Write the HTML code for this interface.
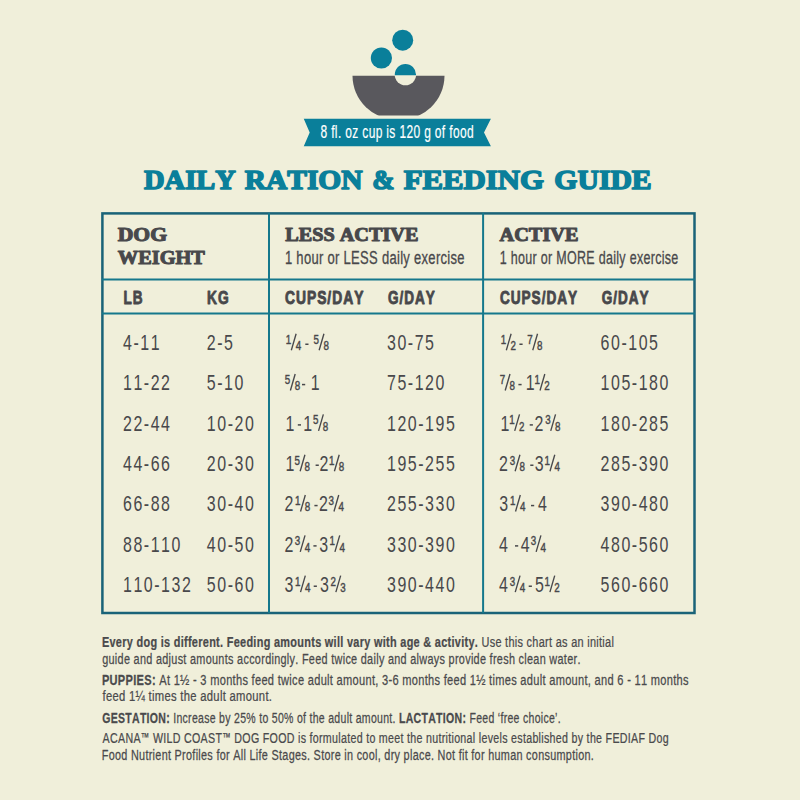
<!DOCTYPE html>
<html><head><meta charset="utf-8"><title>Daily Ration &amp; Feeding Guide</title>
<style>html,body{margin:0;padding:0;background:#f0efda;width:800px;height:800px;overflow:hidden}
text{font-kerning:none;font-family:"Liberation Sans",sans-serif}</style></head>
<body>
<svg width="800" height="800" viewBox="0 0 800 800" style="display:block;font-kerning:none"><rect x="0" y="0" width="800" height="800" fill="#f0efda"/>
<circle cx="402.7" cy="40.2" r="10.5" fill="#0a7f9a"/>
<circle cx="381.4" cy="58.0" r="10.6" fill="#0a7f9a"/>
<defs><clipPath id="bc"><rect x="340" y="75.7" width="120" height="39.9"/></clipPath><clipPath id="tc"><rect x="380" y="50" width="50" height="25.3"/></clipPath><mask id="bm"><rect x="300" y="60" width="200" height="70" fill="#fff"/><circle cx="405.4" cy="74.6" r="10.7" fill="#000"/></mask></defs>
<g mask="url(#bm)"><ellipse cx="398.5" cy="75.7" rx="46" ry="44.5" fill="#59585d" clip-path="url(#bc)"/></g>
<circle cx="405.4" cy="74.6" r="10.6" fill="#0a7f9a" clip-path="url(#tc)"/>
<polygon points="303.75,118.75 490.9,118.75 484,132.5 490.9,146.25 303.75,146.25 309.7,132.5" fill="#0a7f9a"/>
<text transform="translate(320.478 138.300) scale(0.6555 1)" fill="#ffffff" stroke="#ffffff" stroke-width="0.20" stroke-linejoin="round" letter-spacing="0.534"><tspan style="font-family:'Liberation Sans';font-weight:normal;font-size:18.314px">8 fl. oz cup is 120 g of food</tspan></text>
<text transform="translate(144.100 189.200) scale(1.0065 1)" fill="#0a7f9a" stroke="#0a7f9a" stroke-width="1.60" stroke-linejoin="round"><tspan style="font-family:'Liberation Serif';font-weight:bold;font-size:28.254px">DAILY</tspan></text>
<text transform="translate(244.696 189.200) scale(1.0430 1)" fill="#0a7f9a" stroke="#0a7f9a" stroke-width="1.60" stroke-linejoin="round"><tspan style="font-family:'Liberation Serif';font-weight:bold;font-size:28.254px">RATION</tspan></text>
<text transform="translate(372.262 189.200) scale(0.9451 1)" fill="#0a7f9a" stroke="#0a7f9a" stroke-width="1.60" stroke-linejoin="round"><tspan style="font-family:'Liberation Serif';font-weight:bold;font-size:28.254px">&amp;</tspan></text>
<text transform="translate(403.673 189.200) scale(1.0904 1)" fill="#0a7f9a" stroke="#0a7f9a" stroke-width="1.60" stroke-linejoin="round"><tspan style="font-family:'Liberation Serif';font-weight:bold;font-size:28.254px">FEEDING</tspan></text>
<text transform="translate(554.350 189.200) scale(1.0513 1)" fill="#0a7f9a" stroke="#0a7f9a" stroke-width="1.60" stroke-linejoin="round"><tspan style="font-family:'Liberation Serif';font-weight:bold;font-size:28.254px">GUIDE</tspan></text>
<rect x="102.4" y="213.4" width="592.1" height="399.6" fill="none" stroke="#1a6378" stroke-width="2.5"/>
<line x1="269.0" y1="213" x2="269.0" y2="613" stroke="#15788c" stroke-width="2"/>
<line x1="483.1" y1="213" x2="483.1" y2="613" stroke="#15788c" stroke-width="2"/>
<line x1="102" y1="279.5" x2="695" y2="279.5" stroke="#15788c" stroke-width="2"/>
<line x1="102" y1="313.5" x2="695" y2="313.5" stroke="#15788c" stroke-width="2"/>
<text transform="translate(117.719 241.100) scale(1.1730 1)" fill="#48484b" stroke="#48484b" stroke-width="1.00" stroke-linejoin="round"><tspan style="font-family:'Liberation Serif';font-weight:bold;font-size:18.479px">DOG</tspan></text>
<text transform="translate(117.812 263.800) scale(1.0495 1)" fill="#48484b" stroke="#48484b" stroke-width="1.00" stroke-linejoin="round"><tspan style="font-family:'Liberation Serif';font-weight:bold;font-size:19.396px">WEIGHT</tspan></text>
<text transform="translate(285.154 241.100) scale(1.0960 1)" fill="#48484b" stroke="#48484b" stroke-width="1.00" stroke-linejoin="round"><tspan style="font-family:'Liberation Serif';font-weight:bold;font-size:18.479px">LESS ACTIVE</tspan></text>
<text transform="translate(499.552 241.100) scale(1.0989 1)" fill="#48484b" stroke="#48484b" stroke-width="1.00" stroke-linejoin="round"><tspan style="font-family:'Liberation Serif';font-weight:bold;font-size:18.479px">ACTIVE</tspan></text>
<text transform="translate(284.909 264.150) scale(0.7397 1)" fill="#48484b" stroke="#48484b" stroke-width="0.30" stroke-linejoin="round" letter-spacing="0.406"><tspan style="font-family:'Liberation Sans';font-weight:normal;font-size:17.588px">1 hour or LESS daily exercise</tspan></text>
<text transform="translate(499.697 264.150) scale(0.7112 1)" fill="#48484b" stroke="#48484b" stroke-width="0.30" stroke-linejoin="round" letter-spacing="0.422"><tspan style="font-family:'Liberation Sans';font-weight:normal;font-size:17.588px">1 hour or MORE daily exercise</tspan></text>
<text transform="translate(123.540 303.550) scale(0.7142 1)" fill="#48484b" stroke="#48484b" stroke-width="0.90" stroke-linejoin="round" letter-spacing="1.400"><tspan style="font-family:'Liberation Sans';font-weight:bold;font-size:19.041px">LB</tspan></text>
<text transform="translate(207.028 303.550) scale(0.7239 1)" fill="#48484b" stroke="#48484b" stroke-width="0.90" stroke-linejoin="round" letter-spacing="1.381"><tspan style="font-family:'Liberation Sans';font-weight:bold;font-size:19.041px">KG</tspan></text>
<text transform="translate(284.881 303.550) scale(0.7281 1)" fill="#48484b" stroke="#48484b" stroke-width="0.90" stroke-linejoin="round" letter-spacing="1.373"><tspan style="font-family:'Liberation Sans';font-weight:bold;font-size:19.041px">CUPS/DAY</tspan></text>
<text transform="translate(387.895 303.550) scale(0.7110 1)" fill="#48484b" stroke="#48484b" stroke-width="0.90" stroke-linejoin="round" letter-spacing="1.407"><tspan style="font-family:'Liberation Sans';font-weight:bold;font-size:19.041px">G/DAY</tspan></text>
<text transform="translate(499.891 303.550) scale(0.7153 1)" fill="#48484b" stroke="#48484b" stroke-width="0.90" stroke-linejoin="round" letter-spacing="1.398"><tspan style="font-family:'Liberation Sans';font-weight:bold;font-size:19.041px">CUPS/DAY</tspan></text>
<text transform="translate(601.645 303.550) scale(0.7110 1)" fill="#48484b" stroke="#48484b" stroke-width="0.90" stroke-linejoin="round" letter-spacing="1.407"><tspan style="font-family:'Liberation Sans';font-weight:bold;font-size:19.041px">G/DAY</tspan></text>
<text transform="translate(123.000 350.000) scale(0.7000 1)" fill="#48484b" letter-spacing="2.214" style="font-family:'Liberation Sans';font-size:22.800px">4-11</text>
<text transform="translate(123.000 390.330) scale(0.7000 1)" fill="#48484b" letter-spacing="2.214" style="font-family:'Liberation Sans';font-size:22.800px">11-22</text>
<text transform="translate(123.000 430.660) scale(0.7000 1)" fill="#48484b" letter-spacing="2.214" style="font-family:'Liberation Sans';font-size:22.800px">22-44</text>
<text transform="translate(123.000 470.990) scale(0.7000 1)" fill="#48484b" letter-spacing="2.214" style="font-family:'Liberation Sans';font-size:22.800px">44-66</text>
<text transform="translate(123.000 511.320) scale(0.7000 1)" fill="#48484b" letter-spacing="2.214" style="font-family:'Liberation Sans';font-size:22.800px">66-88</text>
<text transform="translate(123.000 551.650) scale(0.7000 1)" fill="#48484b" letter-spacing="2.214" style="font-family:'Liberation Sans';font-size:22.800px">88-110</text>
<text transform="translate(123.000 591.980) scale(0.7000 1)" fill="#48484b" letter-spacing="2.214" style="font-family:'Liberation Sans';font-size:22.800px">110-132</text>
<text transform="translate(206.800 350.000) scale(0.7000 1)" fill="#48484b" letter-spacing="2.214" style="font-family:'Liberation Sans';font-size:22.800px">2-5</text>
<text transform="translate(206.800 390.330) scale(0.7000 1)" fill="#48484b" letter-spacing="2.214" style="font-family:'Liberation Sans';font-size:22.800px">5-10</text>
<text transform="translate(206.800 430.660) scale(0.7000 1)" fill="#48484b" letter-spacing="2.214" style="font-family:'Liberation Sans';font-size:22.800px">10-20</text>
<text transform="translate(206.800 470.990) scale(0.7000 1)" fill="#48484b" letter-spacing="2.214" style="font-family:'Liberation Sans';font-size:22.800px">20-30</text>
<text transform="translate(206.800 511.320) scale(0.7000 1)" fill="#48484b" letter-spacing="2.214" style="font-family:'Liberation Sans';font-size:22.800px">30-40</text>
<text transform="translate(206.800 551.650) scale(0.7000 1)" fill="#48484b" letter-spacing="2.214" style="font-family:'Liberation Sans';font-size:22.800px">40-50</text>
<text transform="translate(206.800 591.980) scale(0.7000 1)" fill="#48484b" letter-spacing="2.214" style="font-family:'Liberation Sans';font-size:22.800px">50-60</text>
<text transform="translate(387.000 350.000) scale(0.7000 1)" fill="#48484b" letter-spacing="2.214" style="font-family:'Liberation Sans';font-size:22.800px">30-75</text>
<text transform="translate(387.000 390.330) scale(0.7000 1)" fill="#48484b" letter-spacing="2.214" style="font-family:'Liberation Sans';font-size:22.800px">75-120</text>
<text transform="translate(387.000 430.660) scale(0.7000 1)" fill="#48484b" letter-spacing="2.214" style="font-family:'Liberation Sans';font-size:22.800px">120-195</text>
<text transform="translate(387.000 470.990) scale(0.7000 1)" fill="#48484b" letter-spacing="2.214" style="font-family:'Liberation Sans';font-size:22.800px">195-255</text>
<text transform="translate(387.000 511.320) scale(0.7000 1)" fill="#48484b" letter-spacing="2.214" style="font-family:'Liberation Sans';font-size:22.800px">255-330</text>
<text transform="translate(387.000 551.650) scale(0.7000 1)" fill="#48484b" letter-spacing="2.214" style="font-family:'Liberation Sans';font-size:22.800px">330-390</text>
<text transform="translate(387.000 591.980) scale(0.7000 1)" fill="#48484b" letter-spacing="2.214" style="font-family:'Liberation Sans';font-size:22.800px">390-440</text>
<text transform="translate(600.600 350.000) scale(0.7000 1)" fill="#48484b" letter-spacing="2.214" style="font-family:'Liberation Sans';font-size:22.800px">60-105</text>
<text transform="translate(600.600 390.330) scale(0.7000 1)" fill="#48484b" letter-spacing="2.214" style="font-family:'Liberation Sans';font-size:22.800px">105-180</text>
<text transform="translate(600.600 430.660) scale(0.7000 1)" fill="#48484b" letter-spacing="2.214" style="font-family:'Liberation Sans';font-size:22.800px">180-285</text>
<text transform="translate(600.600 470.990) scale(0.7000 1)" fill="#48484b" letter-spacing="2.214" style="font-family:'Liberation Sans';font-size:22.800px">285-390</text>
<text transform="translate(600.600 511.320) scale(0.7000 1)" fill="#48484b" letter-spacing="2.214" style="font-family:'Liberation Sans';font-size:22.800px">390-480</text>
<text transform="translate(600.600 551.650) scale(0.7000 1)" fill="#48484b" letter-spacing="2.214" style="font-family:'Liberation Sans';font-size:22.800px">480-560</text>
<text transform="translate(600.600 591.980) scale(0.7000 1)" fill="#48484b" letter-spacing="2.214" style="font-family:'Liberation Sans';font-size:22.800px">560-660</text>
<text transform="translate(285.854 343.700) scale(0.7200 1)" fill="#48484b" stroke="#48484b" stroke-width="0.45" style="font-family:'Liberation Sans';font-weight:normal;font-size:13.600px">1</text>
<line x1="291.32" y1="350.20" x2="296.12" y2="333.70" stroke="#48484b" stroke-width="1.35"/>
<text transform="translate(295.797 350.000) scale(0.7200 1)" fill="#48484b" stroke="#48484b" stroke-width="0.45" style="font-family:'Liberation Sans';font-weight:normal;font-size:13.600px">4</text>
<rect x="305.30" y="343.50" width="3.2" height="1.5" fill="#48484b"/>
<text transform="translate(313.608 343.700) scale(0.7200 1)" fill="#48484b" stroke="#48484b" stroke-width="0.45" style="font-family:'Liberation Sans';font-weight:normal;font-size:13.600px">5</text>
<line x1="319.14" y1="350.20" x2="323.94" y2="333.70" stroke="#48484b" stroke-width="1.35"/>
<text transform="translate(323.417 350.000) scale(0.7200 1)" fill="#48484b" stroke="#48484b" stroke-width="0.45" style="font-family:'Liberation Sans';font-weight:normal;font-size:13.600px">8</text>
<text transform="translate(284.858 384.030) scale(0.7200 1)" fill="#48484b" stroke="#48484b" stroke-width="0.45" style="font-family:'Liberation Sans';font-weight:normal;font-size:13.600px">5</text>
<line x1="290.39" y1="390.53" x2="295.19" y2="374.03" stroke="#48484b" stroke-width="1.35"/>
<text transform="translate(294.667 390.330) scale(0.7200 1)" fill="#48484b" stroke="#48484b" stroke-width="0.45" style="font-family:'Liberation Sans';font-weight:normal;font-size:13.600px">8</text>
<rect x="302.00" y="383.83" width="3.2" height="1.5" fill="#48484b"/>
<text transform="translate(310.784 390.330) scale(0.7000 1)" fill="#48484b" style="font-family:'Liberation Sans';font-weight:normal;font-size:22.800px">1</text>
<text transform="translate(285.384 430.660) scale(0.7000 1)" fill="#48484b" style="font-family:'Liberation Sans';font-weight:normal;font-size:22.800px">1</text>
<rect x="297.80" y="424.16" width="3.2" height="1.5" fill="#48484b"/>
<text transform="translate(303.184 430.660) scale(0.7000 1)" fill="#48484b" style="font-family:'Liberation Sans';font-weight:normal;font-size:22.800px">1</text>
<text transform="translate(313.008 424.360) scale(0.7200 1)" fill="#48484b" stroke="#48484b" stroke-width="0.45" style="font-family:'Liberation Sans';font-weight:normal;font-size:13.600px">5</text>
<line x1="318.54" y1="430.86" x2="323.34" y2="414.36" stroke="#48484b" stroke-width="1.35"/>
<text transform="translate(322.817 430.660) scale(0.7200 1)" fill="#48484b" stroke="#48484b" stroke-width="0.45" style="font-family:'Liberation Sans';font-weight:normal;font-size:13.600px">8</text>
<text transform="translate(285.384 470.990) scale(0.7000 1)" fill="#48484b" style="font-family:'Liberation Sans';font-weight:normal;font-size:22.800px">1</text>
<text transform="translate(294.608 464.690) scale(0.7200 1)" fill="#48484b" stroke="#48484b" stroke-width="0.45" style="font-family:'Liberation Sans';font-weight:normal;font-size:13.600px">5</text>
<line x1="300.14" y1="471.19" x2="304.94" y2="454.69" stroke="#48484b" stroke-width="1.35"/>
<text transform="translate(304.417 470.990) scale(0.7200 1)" fill="#48484b" stroke="#48484b" stroke-width="0.45" style="font-family:'Liberation Sans';font-weight:normal;font-size:13.600px">8</text>
<rect x="315.60" y="464.49" width="3.2" height="1.5" fill="#48484b"/>
<text transform="translate(319.497 470.990) scale(0.7000 1)" fill="#48484b" style="font-family:'Liberation Sans';font-weight:normal;font-size:22.800px">2</text>
<text transform="translate(328.954 464.690) scale(0.7200 1)" fill="#48484b" stroke="#48484b" stroke-width="0.45" style="font-family:'Liberation Sans';font-weight:normal;font-size:13.600px">1</text>
<line x1="334.42" y1="471.19" x2="339.22" y2="454.69" stroke="#48484b" stroke-width="1.35"/>
<text transform="translate(338.696 470.990) scale(0.7200 1)" fill="#48484b" stroke="#48484b" stroke-width="0.45" style="font-family:'Liberation Sans';font-weight:normal;font-size:13.600px">8</text>
<text transform="translate(284.397 511.320) scale(0.7000 1)" fill="#48484b" style="font-family:'Liberation Sans';font-weight:normal;font-size:22.800px">2</text>
<text transform="translate(295.054 505.020) scale(0.7200 1)" fill="#48484b" stroke="#48484b" stroke-width="0.45" style="font-family:'Liberation Sans';font-weight:normal;font-size:13.600px">1</text>
<line x1="300.52" y1="511.52" x2="305.32" y2="495.02" stroke="#48484b" stroke-width="1.35"/>
<text transform="translate(304.796 511.320) scale(0.7200 1)" fill="#48484b" stroke="#48484b" stroke-width="0.45" style="font-family:'Liberation Sans';font-weight:normal;font-size:13.600px">8</text>
<rect x="314.40" y="504.82" width="3.2" height="1.5" fill="#48484b"/>
<text transform="translate(319.097 511.320) scale(0.7000 1)" fill="#48484b" style="font-family:'Liberation Sans';font-weight:normal;font-size:22.800px">2</text>
<text transform="translate(328.427 505.020) scale(0.7200 1)" fill="#48484b" stroke="#48484b" stroke-width="0.45" style="font-family:'Liberation Sans';font-weight:normal;font-size:13.600px">3</text>
<line x1="333.94" y1="511.52" x2="338.74" y2="495.02" stroke="#48484b" stroke-width="1.35"/>
<text transform="translate(338.418 511.320) scale(0.7200 1)" fill="#48484b" stroke="#48484b" stroke-width="0.45" style="font-family:'Liberation Sans';font-weight:normal;font-size:13.600px">4</text>
<text transform="translate(284.397 551.650) scale(0.7000 1)" fill="#48484b" style="font-family:'Liberation Sans';font-weight:normal;font-size:22.800px">2</text>
<text transform="translate(294.727 545.350) scale(0.7200 1)" fill="#48484b" stroke="#48484b" stroke-width="0.45" style="font-family:'Liberation Sans';font-weight:normal;font-size:13.600px">3</text>
<line x1="300.24" y1="551.85" x2="305.04" y2="535.35" stroke="#48484b" stroke-width="1.35"/>
<text transform="translate(304.718 551.650) scale(0.7200 1)" fill="#48484b" stroke="#48484b" stroke-width="0.45" style="font-family:'Liberation Sans';font-weight:normal;font-size:13.600px">4</text>
<rect x="313.40" y="545.15" width="3.2" height="1.5" fill="#48484b"/>
<text transform="translate(319.292 551.650) scale(0.7000 1)" fill="#48484b" style="font-family:'Liberation Sans';font-weight:normal;font-size:22.800px">3</text>
<text transform="translate(329.454 545.350) scale(0.7200 1)" fill="#48484b" stroke="#48484b" stroke-width="0.45" style="font-family:'Liberation Sans';font-weight:normal;font-size:13.600px">1</text>
<line x1="334.92" y1="551.85" x2="339.72" y2="535.35" stroke="#48484b" stroke-width="1.35"/>
<text transform="translate(339.397 551.650) scale(0.7200 1)" fill="#48484b" stroke="#48484b" stroke-width="0.45" style="font-family:'Liberation Sans';font-weight:normal;font-size:13.600px">4</text>
<text transform="translate(284.592 591.980) scale(0.7000 1)" fill="#48484b" style="font-family:'Liberation Sans';font-weight:normal;font-size:22.800px">3</text>
<text transform="translate(295.054 585.680) scale(0.7200 1)" fill="#48484b" stroke="#48484b" stroke-width="0.45" style="font-family:'Liberation Sans';font-weight:normal;font-size:13.600px">1</text>
<line x1="300.52" y1="592.18" x2="305.32" y2="575.68" stroke="#48484b" stroke-width="1.35"/>
<text transform="translate(304.997 591.980) scale(0.7200 1)" fill="#48484b" stroke="#48484b" stroke-width="0.45" style="font-family:'Liberation Sans';font-weight:normal;font-size:13.600px">4</text>
<rect x="313.70" y="585.48" width="3.2" height="1.5" fill="#48484b"/>
<text transform="translate(319.992 591.980) scale(0.7000 1)" fill="#48484b" style="font-family:'Liberation Sans';font-weight:normal;font-size:22.800px">3</text>
<text transform="translate(330.408 585.680) scale(0.7200 1)" fill="#48484b" stroke="#48484b" stroke-width="0.45" style="font-family:'Liberation Sans';font-weight:normal;font-size:13.600px">2</text>
<line x1="335.86" y1="592.18" x2="340.66" y2="575.68" stroke="#48484b" stroke-width="1.35"/>
<text transform="translate(340.188 591.980) scale(0.7200 1)" fill="#48484b" stroke="#48484b" stroke-width="0.45" style="font-family:'Liberation Sans';font-weight:normal;font-size:13.600px">3</text>
<text transform="translate(500.854 343.700) scale(0.7200 1)" fill="#48484b" stroke="#48484b" stroke-width="0.45" style="font-family:'Liberation Sans';font-weight:normal;font-size:13.600px">1</text>
<line x1="506.32" y1="350.20" x2="511.12" y2="333.70" stroke="#48484b" stroke-width="1.35"/>
<text transform="translate(510.529 350.000) scale(0.7200 1)" fill="#48484b" stroke="#48484b" stroke-width="0.45" style="font-family:'Liberation Sans';font-weight:normal;font-size:13.600px">2</text>
<rect x="519.40" y="343.50" width="3.2" height="1.5" fill="#48484b"/>
<text transform="translate(527.298 343.700) scale(0.7200 1)" fill="#48484b" stroke="#48484b" stroke-width="0.45" style="font-family:'Liberation Sans';font-weight:normal;font-size:13.600px">7</text>
<line x1="532.75" y1="350.20" x2="537.55" y2="333.70" stroke="#48484b" stroke-width="1.35"/>
<text transform="translate(537.026 350.000) scale(0.7200 1)" fill="#48484b" stroke="#48484b" stroke-width="0.45" style="font-family:'Liberation Sans';font-weight:normal;font-size:13.600px">8</text>
<text transform="translate(499.748 384.030) scale(0.7200 1)" fill="#48484b" stroke="#48484b" stroke-width="0.45" style="font-family:'Liberation Sans';font-weight:normal;font-size:13.600px">7</text>
<line x1="505.20" y1="390.53" x2="510.00" y2="374.03" stroke="#48484b" stroke-width="1.35"/>
<text transform="translate(509.476 390.330) scale(0.7200 1)" fill="#48484b" stroke="#48484b" stroke-width="0.45" style="font-family:'Liberation Sans';font-weight:normal;font-size:13.600px">8</text>
<rect x="518.40" y="383.83" width="3.2" height="1.5" fill="#48484b"/>
<text transform="translate(525.684 390.330) scale(0.7000 1)" fill="#48484b" style="font-family:'Liberation Sans';font-weight:normal;font-size:22.800px">1</text>
<text transform="translate(534.554 384.030) scale(0.7200 1)" fill="#48484b" stroke="#48484b" stroke-width="0.45" style="font-family:'Liberation Sans';font-weight:normal;font-size:13.600px">1</text>
<line x1="540.02" y1="390.53" x2="544.82" y2="374.03" stroke="#48484b" stroke-width="1.35"/>
<text transform="translate(544.229 390.330) scale(0.7200 1)" fill="#48484b" stroke="#48484b" stroke-width="0.45" style="font-family:'Liberation Sans';font-weight:normal;font-size:13.600px">2</text>
<text transform="translate(500.384 430.660) scale(0.7000 1)" fill="#48484b" style="font-family:'Liberation Sans';font-weight:normal;font-size:22.800px">1</text>
<text transform="translate(509.254 424.360) scale(0.7200 1)" fill="#48484b" stroke="#48484b" stroke-width="0.45" style="font-family:'Liberation Sans';font-weight:normal;font-size:13.600px">1</text>
<line x1="514.72" y1="430.86" x2="519.52" y2="414.36" stroke="#48484b" stroke-width="1.35"/>
<text transform="translate(518.929 430.660) scale(0.7200 1)" fill="#48484b" stroke="#48484b" stroke-width="0.45" style="font-family:'Liberation Sans';font-weight:normal;font-size:13.600px">2</text>
<rect x="529.70" y="424.16" width="3.2" height="1.5" fill="#48484b"/>
<text transform="translate(534.497 430.660) scale(0.7000 1)" fill="#48484b" style="font-family:'Liberation Sans';font-weight:normal;font-size:22.800px">2</text>
<text transform="translate(545.227 424.360) scale(0.7200 1)" fill="#48484b" stroke="#48484b" stroke-width="0.45" style="font-family:'Liberation Sans';font-weight:normal;font-size:13.600px">3</text>
<line x1="550.74" y1="430.86" x2="555.54" y2="414.36" stroke="#48484b" stroke-width="1.35"/>
<text transform="translate(555.017 430.660) scale(0.7200 1)" fill="#48484b" stroke="#48484b" stroke-width="0.45" style="font-family:'Liberation Sans';font-weight:normal;font-size:13.600px">8</text>
<text transform="translate(498.897 470.990) scale(0.7000 1)" fill="#48484b" style="font-family:'Liberation Sans';font-weight:normal;font-size:22.800px">2</text>
<text transform="translate(509.627 464.690) scale(0.7200 1)" fill="#48484b" stroke="#48484b" stroke-width="0.45" style="font-family:'Liberation Sans';font-weight:normal;font-size:13.600px">3</text>
<line x1="515.14" y1="471.19" x2="519.94" y2="454.69" stroke="#48484b" stroke-width="1.35"/>
<text transform="translate(519.417 470.990) scale(0.7200 1)" fill="#48484b" stroke="#48484b" stroke-width="0.45" style="font-family:'Liberation Sans';font-weight:normal;font-size:13.600px">8</text>
<rect x="530.25" y="464.49" width="3.2" height="1.5" fill="#48484b"/>
<text transform="translate(534.692 470.990) scale(0.7000 1)" fill="#48484b" style="font-family:'Liberation Sans';font-weight:normal;font-size:22.800px">3</text>
<text transform="translate(544.504 464.690) scale(0.7200 1)" fill="#48484b" stroke="#48484b" stroke-width="0.45" style="font-family:'Liberation Sans';font-weight:normal;font-size:13.600px">1</text>
<line x1="549.97" y1="471.19" x2="554.77" y2="454.69" stroke="#48484b" stroke-width="1.35"/>
<text transform="translate(554.447 470.990) scale(0.7200 1)" fill="#48484b" stroke="#48484b" stroke-width="0.45" style="font-family:'Liberation Sans';font-weight:normal;font-size:13.600px">4</text>
<text transform="translate(499.192 511.320) scale(0.7000 1)" fill="#48484b" style="font-family:'Liberation Sans';font-weight:normal;font-size:22.800px">3</text>
<text transform="translate(510.054 505.020) scale(0.7200 1)" fill="#48484b" stroke="#48484b" stroke-width="0.45" style="font-family:'Liberation Sans';font-weight:normal;font-size:13.600px">1</text>
<line x1="515.52" y1="511.52" x2="520.32" y2="495.02" stroke="#48484b" stroke-width="1.35"/>
<text transform="translate(519.997 511.320) scale(0.7200 1)" fill="#48484b" stroke="#48484b" stroke-width="0.45" style="font-family:'Liberation Sans';font-weight:normal;font-size:13.600px">4</text>
<rect x="531.00" y="504.82" width="3.2" height="1.5" fill="#48484b"/>
<text transform="translate(537.934 511.320) scale(0.7000 1)" fill="#48484b" style="font-family:'Liberation Sans';font-weight:normal;font-size:22.800px">4</text>
<text transform="translate(499.034 551.650) scale(0.7000 1)" fill="#48484b" style="font-family:'Liberation Sans';font-weight:normal;font-size:22.800px">4</text>
<rect x="515.00" y="545.15" width="3.2" height="1.5" fill="#48484b"/>
<text transform="translate(520.734 551.650) scale(0.7000 1)" fill="#48484b" style="font-family:'Liberation Sans';font-weight:normal;font-size:22.800px">4</text>
<text transform="translate(530.627 545.350) scale(0.7200 1)" fill="#48484b" stroke="#48484b" stroke-width="0.45" style="font-family:'Liberation Sans';font-weight:normal;font-size:13.600px">3</text>
<line x1="536.14" y1="551.85" x2="540.94" y2="535.35" stroke="#48484b" stroke-width="1.35"/>
<text transform="translate(540.618 551.650) scale(0.7200 1)" fill="#48484b" stroke="#48484b" stroke-width="0.45" style="font-family:'Liberation Sans';font-weight:normal;font-size:13.600px">4</text>
<text transform="translate(499.034 591.980) scale(0.7000 1)" fill="#48484b" style="font-family:'Liberation Sans';font-weight:normal;font-size:22.800px">4</text>
<text transform="translate(509.727 585.680) scale(0.7200 1)" fill="#48484b" stroke="#48484b" stroke-width="0.45" style="font-family:'Liberation Sans';font-weight:normal;font-size:13.600px">3</text>
<line x1="515.24" y1="592.18" x2="520.04" y2="575.68" stroke="#48484b" stroke-width="1.35"/>
<text transform="translate(519.718 591.980) scale(0.7200 1)" fill="#48484b" stroke="#48484b" stroke-width="0.45" style="font-family:'Liberation Sans';font-weight:normal;font-size:13.600px">4</text>
<rect x="528.70" y="585.48" width="3.2" height="1.5" fill="#48484b"/>
<text transform="translate(534.961 591.980) scale(0.7000 1)" fill="#48484b" style="font-family:'Liberation Sans';font-weight:normal;font-size:22.800px">5</text>
<text transform="translate(544.454 585.680) scale(0.7200 1)" fill="#48484b" stroke="#48484b" stroke-width="0.45" style="font-family:'Liberation Sans';font-weight:normal;font-size:13.600px">1</text>
<line x1="549.92" y1="592.18" x2="554.72" y2="575.68" stroke="#48484b" stroke-width="1.35"/>
<text transform="translate(554.129 591.980) scale(0.7200 1)" fill="#48484b" stroke="#48484b" stroke-width="0.45" style="font-family:'Liberation Sans';font-weight:normal;font-size:13.600px">2</text>
<text transform="translate(101.894 646.875) scale(0.7555 1)" fill="#4a4a4c" stroke="#4a4a4c" stroke-width="0.25" stroke-linejoin="round" letter-spacing="0.397"><tspan style="font-family:'Liberation Sans';font-weight:bold;font-size:14.462px">Every dog is different. Feeding amounts will vary with age &amp; activity.</tspan><tspan style="font-family:'Liberation Sans';font-weight:normal;font-size:14.462px"> Use this chart as an initial</tspan></text>
<text transform="translate(102.168 663.725) scale(0.7517 1)" fill="#4a4a4c" stroke="#4a4a4c" stroke-width="0.25" stroke-linejoin="round" letter-spacing="0.399"><tspan style="font-family:'Liberation Sans';font-weight:normal;font-size:14.462px">guide and adjust amounts accordingly. Feed twice daily and always provide fresh clean water.</tspan></text>
<text transform="translate(101.885 684.575) scale(0.7654 1)" fill="#4a4a4c" stroke="#4a4a4c" stroke-width="0.25" stroke-linejoin="round" letter-spacing="0.392"><tspan style="font-family:'Liberation Sans';font-weight:bold;font-size:14.462px">PUPPIES:</tspan><tspan style="font-family:'Liberation Sans';font-weight:normal;font-size:14.462px"> At 1½ - 3 months feed twice adult amount, 3-6 months feed 1½ times adult amount, and 6 - 11 months</tspan></text>
<text transform="translate(102.466 701.375) scale(0.7777 1)" fill="#4a4a4c" stroke="#4a4a4c" stroke-width="0.25" stroke-linejoin="round" letter-spacing="0.386"><tspan style="font-family:'Liberation Sans';font-weight:normal;font-size:14.462px">feed 1¼ times the adult amount.</tspan></text>
<text transform="translate(102.193 722.675) scale(0.7278 1)" fill="#4a4a4c" stroke="#4a4a4c" stroke-width="0.25" stroke-linejoin="round" letter-spacing="0.412"><tspan style="font-family:'Liberation Sans';font-weight:bold;font-size:14.462px">GESTATION:</tspan><tspan style="font-family:'Liberation Sans';font-weight:normal;font-size:14.462px"> Increase by 25% to 50% of the adult amount. </tspan><tspan style="font-family:'Liberation Sans';font-weight:bold;font-size:14.462px">LACTATION:</tspan><tspan style="font-family:'Liberation Sans';font-weight:normal;font-size:14.462px"> Feed ‘free choice’.</tspan></text>
<text transform="translate(102.604 743.475) scale(0.7379 1)" fill="#4a4a4c" stroke="#4a4a4c" stroke-width="0.25" stroke-linejoin="round" letter-spacing="0.407"><tspan style="font-family:'Liberation Sans';font-weight:normal;font-size:14.462px">ACANA</tspan><tspan style="font-family:'Liberation Sans';font-weight:normal;font-size:11.570px;baseline-shift:2.55px">™</tspan><tspan style="font-family:'Liberation Sans';font-weight:normal;font-size:14.462px"> WILD COAST</tspan><tspan style="font-family:'Liberation Sans';font-weight:normal;font-size:11.570px;baseline-shift:2.55px">™</tspan><tspan style="font-family:'Liberation Sans';font-weight:normal;font-size:14.462px"> DOG FOOD is formulated to meet the nutritional levels established by the FEDIAF Dog</tspan></text>
<text transform="translate(101.735 760.175) scale(0.7500 1)" fill="#4a4a4c" stroke="#4a4a4c" stroke-width="0.25" stroke-linejoin="round" letter-spacing="0.400"><tspan style="font-family:'Liberation Sans';font-weight:normal;font-size:14.462px">Food Nutrient Profiles for All Life Stages. Store in cool, dry place. Not fit for human consumption.</tspan></text></svg>
</body></html>
